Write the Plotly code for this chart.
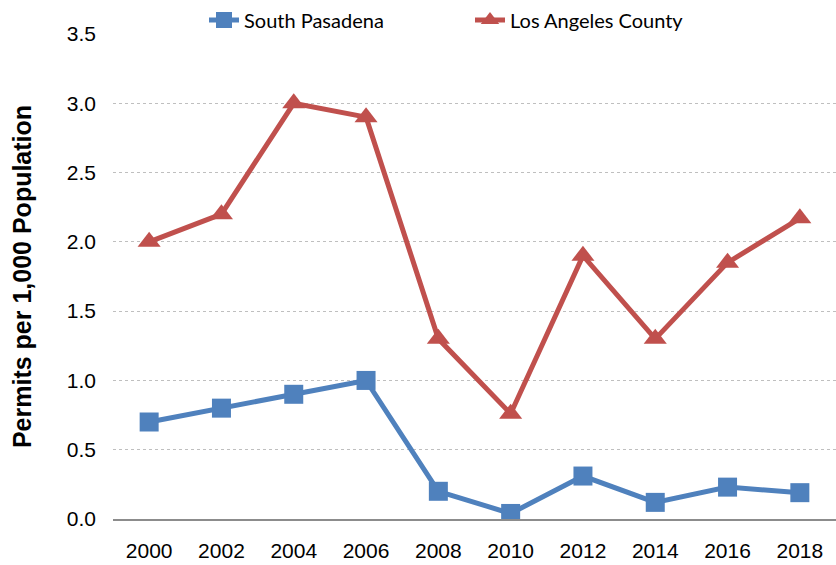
import plotly.graph_objects as go

years = ["2000", "2002", "2004", "2006", "2008", "2010", "2012", "2014", "2016", "2018"]
south_pasadena = [0.70, 0.80, 0.90, 1.00, 0.20, 0.04, 0.31, 0.12, 0.23, 0.19]
la_county = [2.00, 2.20, 3.00, 2.90, 1.30, 0.76, 1.90, 1.30, 1.85, 2.17]
y_ticks = [0.0, 0.5, 1.0, 1.5, 2.0, 2.5, 3.0, 3.5]

fig = go.Figure()
fig.add_trace(go.Scatter(
    x=years, y=south_pasadena, name="South Pasadena", mode="lines+markers",
    line=dict(color="#4F81BD", width=5),
    marker=dict(symbol="square", size=19, color="#4F81BD"),
))
fig.add_trace(go.Scatter(
    x=years, y=la_county, name="Los Angeles County", mode="lines+markers",
    line=dict(color="#C0504D", width=5),
    marker=dict(symbol="triangle-up", size=20, color="#C0504D"),
))

tick_font = dict(family="Liberation Sans, Arial, sans-serif", size=21, color="black")

fig.update_layout(
    width=836, height=565,
    margin=dict(l=113, r=0, t=34, b=46, autoexpand=False),
    paper_bgcolor="white", plot_bgcolor="white",
    showlegend=True,
    legend=dict(orientation="h", xref="container", x=204 / 836, xanchor="left",
                yref="container", y=1 - 20 / 565, yanchor="middle",
                font=dict(family="Lato, Open Sans, sans-serif", size=20, color="black"),
                entrywidth=221, entrywidthmode="pixels",
                bgcolor="rgba(0,0,0,0)"),
    xaxis=dict(
        type="category", range=[-0.5, 9.5],
        showgrid=False, showline=True, linecolor="#8C8C8C", linewidth=2,
        ticks="", ticklabelstandoff=12,
        tickfont=tick_font,
    ),
    yaxis=dict(
        range=[0, 3.5], tickvals=y_ticks, ticktext=[f"{v:.1f}" for v in y_ticks],
        showgrid=True, gridcolor="#BFBFBF", griddash="dot", gridwidth=1,
        zeroline=False, showline=False, ticks="", ticklabelstandoff=16,
        tickfont=tick_font,
        title=dict(text="<b>Permits per 1,000 Population</b>", standoff=28,
                   font=dict(family="Liberation Sans, Arial, sans-serif", size=25, color="black")),
    ),
)

fig.write_html("out.html", config={"displayModeBar": False})

with open("out.html", "r", encoding="utf-8") as f:
    html = f.read()
html = html.replace("<body>", '<body style="margin:0;padding:0;">', 1)
with open("out.html", "w", encoding="utf-8") as f:
    f.write(html)
